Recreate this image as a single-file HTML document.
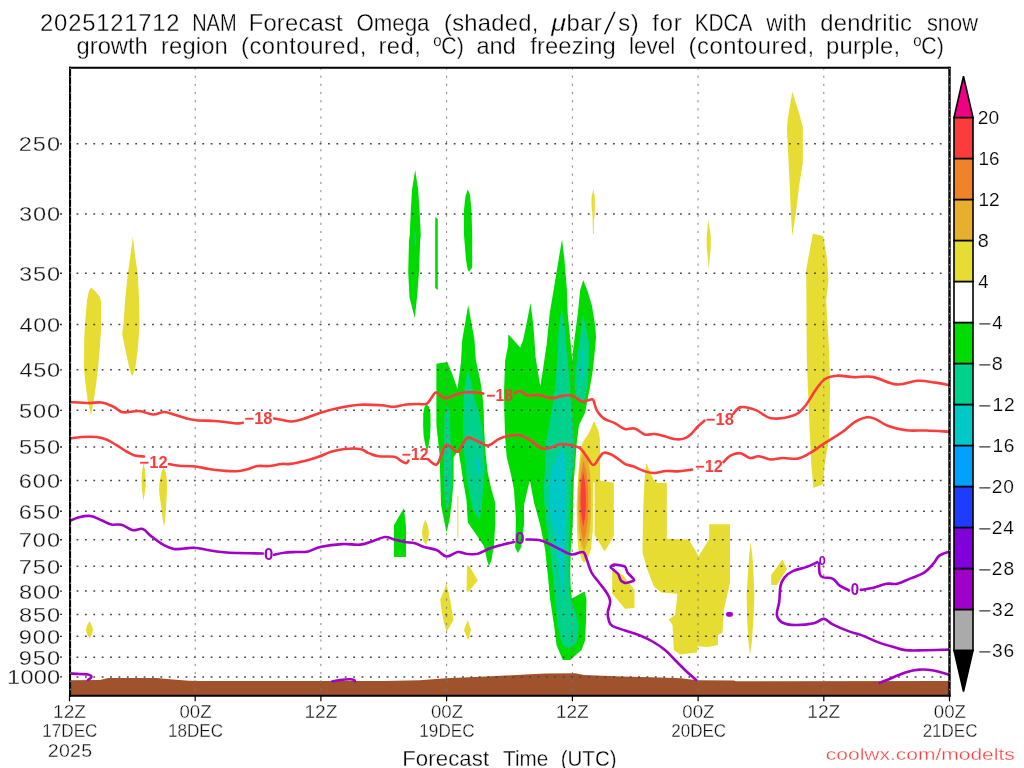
<!DOCTYPE html>
<html lang="en"><head><meta charset="utf-8"><title>NAM Forecast Omega KDCA</title>
<style>html,body{margin:0;padding:0;background:#fff;}svg{display:block;}text{font-family:"Liberation Sans", sans-serif;}</style></head><body>
<svg width="1024" height="768" viewBox="0 0 1024 768">
<rect width="1024" height="768" fill="#fff"/>
<defs><clipPath id="cp"><rect x="69.5" y="67.5" width="880.0" height="628.0"/></clipPath></defs>
<g clip-path="url(#cp)" shape-rendering="geometricPrecision">
<path d="M91.0 287.5 L95.0 291.0 L100.0 297.0 L101.0 302.0 L101.0 330.0 L100.0 345.0 L98.0 369.0 L96.0 385.0 L94.0 399.0 L91.0 415.5 L87.5 399.0 L85.0 380.0 L84.0 369.0 L84.2 340.0 L85.0 324.0 L87.0 300.0 L89.0 291.0Z" fill="#e6dc32"/>
<path d="M132.8 237.0 L135.0 255.0 L137.8 274.0 L139.0 299.0 L139.5 324.0 L139.0 334.0 L137.8 349.0 L135.2 369.0 L132.2 376.5 L129.5 369.0 L125.2 349.0 L122.2 334.0 L123.5 324.0 L125.2 299.0 L127.8 274.0 L130.5 255.0Z" fill="#e6dc32"/>
<path d="M143.5 463.5 L145.0 470.0 L145.8 481.0 L145.5 488.0 L143.5 501.0 L142.0 490.0 L141.5 481.0 L142.3 470.0Z" fill="#e6dc32"/>
<path d="M163.5 467.5 L166.0 473.0 L166.8 480.0 L167.0 489.0 L166.5 500.0 L166.0 509.0 L165.0 520.0 L164.0 527.0 L162.5 518.0 L161.5 509.0 L159.5 495.0 L159.0 489.0 L160.0 480.0 L161.5 472.0Z" fill="#e6dc32"/>
<path d="M89.5 621.0 L92.0 626.0 L93.0 630.0 L92.0 634.0 L89.5 638.5 L87.0 634.0 L85.8 630.0 L87.0 626.0Z" fill="#e6dc32"/>
<path d="M415.2 170.0 L418.2 190.0 L419.5 210.0 L420.8 235.0 L420.2 240.0 L419.0 272.5 L417.0 297.5 L414.8 318.0 L409.5 297.5 L408.2 272.5 L409.0 240.0 L409.8 235.0 L410.8 210.0 L412.0 190.0Z" fill="#00dc00"/>
<path d="M414.5 232.0 L416.0 232.0 L416.0 245.0 L414.5 245.0Z" fill="#00d28c"/>
<path d="M435.2 217.0 L437.8 219.0 L437.8 290.0 L435.2 288.0Z" fill="#00dc00"/>
<path d="M467.8 189.2 L470.0 195.0 L471.5 210.0 L472.2 235.0 L472.2 267.5 L469.0 271.8 L467.8 270.0 L466.0 260.0 L464.0 235.0 L464.0 210.0 L465.5 196.0Z" fill="#00dc00"/>
<path d="M593.5 189.0 L594.8 197.0 L594.8 215.0 L594.0 220.0 L593.8 234.0 L593.0 234.0 L592.5 215.0 L591.5 205.0 L591.5 197.0Z" fill="#e6dc32"/>
<path d="M426.5 404.0 L429.0 407.0 L430.4 413.0 L430.6 425.0 L430.0 437.0 L428.5 446.0 L427.0 451.0 L425.3 445.0 L423.6 436.0 L423.1 425.0 L423.3 413.0 L424.5 407.0Z" fill="#00dc00"/>
<path d="M404.0 508.0 L406.0 527.0 L406.0 557.0 L394.0 557.0 L394.0 525.0Z" fill="#00dc00"/>
<path d="M436.4 363.8 L447.3 362.0 L452.8 375.6 L457.5 389.0 L461.0 362.0 L462.2 340.0 L468.2 305.0 L474.5 340.0 L475.8 360.0 L480.2 380.0 L482.5 396.0 L483.8 411.5 L484.0 427.0 L485.6 453.8 L487.7 472.5 L491.5 490.0 L495.2 502.5 L495.2 525.0 L494.0 545.0 L491.5 560.0 L489.0 566.2 L487.0 560.0 L484.0 546.2 L476.5 535.0 L467.8 522.5 L466.5 500.0 L463.0 480.0 L461.0 466.0 L458.3 450.6 L453.6 457.0 L453.6 480.0 L452.0 500.0 L449.5 520.0 L446.5 532.5 L444.0 520.0 L441.0 505.0 L440.3 480.0 L439.5 453.8 L436.4 425.6Z" fill="#00dc00"/>
<path d="M446.5 407.0 L449.7 411.5 L450.5 438.0 L452.0 470.0 L451.5 485.0 L449.5 500.0 L447.0 512.5 L445.0 500.0 L444.0 480.0 L444.2 440.0 L444.5 415.0Z" fill="#00d28c"/>
<path d="M467.7 368.6 L471.6 383.4 L473.9 396.0 L478.6 411.5 L482.2 430.3 L483.8 453.8 L484.8 469.4 L483.0 490.0 L481.5 510.0 L479.0 520.0 L476.0 515.0 L472.8 510.0 L466.9 480.0 L464.2 453.8 L463.0 438.0 L463.0 411.5 L464.2 391.0Z" fill="#00d28c"/>
<path d="M477.8 453.8 L479.5 462.0 L479.3 472.0 L478.5 478.0 L476.5 470.0 L476.0 462.0Z" fill="#00c8c8"/>
<path d="M508.2 335.0 L509.0 335.0 L520.2 347.5 L523.1 340.0 L527.0 321.2 L530.5 303.0 L533.3 324.4 L535.6 357.2 L538.8 377.5 L540.3 386.0 L542.7 371.2 L546.6 344.7 L549.7 313.4 L553.6 290.0 L556.5 272.5 L562.0 239.2 L564.5 260.0 L566.9 290.0 L567.7 313.4 L570.0 336.9 L571.6 352.5 L572.3 361.0 L572.8 352.5 L574.7 336.9 L577.8 313.4 L580.2 290.0 L583.2 280.0 L587.2 290.0 L591.9 305.6 L595.0 324.4 L596.1 336.9 L594.7 352.5 L592.7 371.2 L589.5 390.0 L586.4 405.6 L585.2 412.5 L579.0 425.0 L576.5 445.0 L575.2 465.0 L573.8 480.0 L573.2 503.0 L572.6 527.0 L570.8 550.0 L570.2 570.0 L570.6 585.0 L571.8 598.4 L584.6 591.5 L586.5 600.0 L586.0 620.0 L585.2 640.0 L581.5 650.0 L570.2 660.0 L562.8 660.0 L556.5 645.0 L554.0 625.0 L550.2 600.0 L547.8 575.0 L545.2 550.0 L540.2 525.0 L534.0 502.5 L529.8 480.0 L524.0 505.0 L524.0 525.0 L521.0 547.5 L517.8 553.0 L515.2 547.5 L516.0 520.0 L514.0 490.0 L512.2 480.0 L509.8 469.4 L506.7 456.9 L505.2 438.0 L504.4 414.7 L504.0 391.0 L505.2 360.0 L508.2 345.0Z" fill="#00dc00"/>
<path d="M561.9 308.0 L564.5 324.4 L566.1 344.7 L568.4 368.0 L570.0 386.9 L570.8 405.0 L572.0 412.5 L573.4 432.0 L574.7 447.7 L573.5 465.0 L570.8 480.0 L570.2 515.0 L569.0 538.6 L568.6 555.0 L568.8 575.0 L570.5 600.0 L576.5 615.0 L579.0 627.5 L576.5 642.5 L570.2 647.5 L566.5 647.5 L561.5 642.5 L557.8 625.0 L555.2 600.0 L552.8 575.0 L550.2 550.0 L546.5 525.0 L544.0 500.0 L544.0 485.0 L545.0 469.4 L545.8 442.8 L549.7 422.5 L553.6 399.0 L556.0 378.8 L557.5 352.5 L559.0 324.4Z" fill="#00d28c"/>
<path d="M583.0 314.2 L586.4 329.0 L588.8 341.6 L588.8 360.3 L588.0 377.5 L586.4 391.6 L584.0 401.0 L582.5 402.5 L575.5 396.2 L574.7 383.8 L575.5 371.2 L577.8 352.5 L580.2 336.9Z" fill="#00d28c"/>
<path d="M582.8 347.0 L584.0 355.0 L584.2 366.0 L583.8 376.0 L583.0 382.5 L582.0 376.0 L581.6 366.0 L581.8 355.0Z" fill="#00c8c8"/>
<path d="M562.8 447.5 L564.8 457.5 L566.1 480.0 L566.2 500.0 L566.1 515.0 L565.0 538.6 L564.2 555.0 L563.8 570.0 L563.0 590.0 L562.3 600.0 L561.3 590.0 L559.7 570.0 L557.3 550.3 L553.8 532.7 L550.3 515.0 L549.4 497.6 L550.3 480.0 L551.5 470.0 L556.5 458.0Z" fill="#00c8c8"/>
<path d="M594.0 421.0 L598.2 430.0 L599.8 438.0 L600.2 455.0 L600.0 481.5 L593.2 482.5 L592.8 530.0 L591.0 549.0 L587.6 558.4 L584.0 563.0 L581.7 559.6 L578.2 549.0 L577.0 530.0 L576.6 505.0 L577.7 483.4 L578.5 470.0 L580.0 455.0 L582.5 442.5 L589.0 433.0Z" fill="#e6dc32"/>
<path d="M584.0 449.0 L588.0 460.0 L590.3 475.0 L591.0 495.0 L590.8 515.0 L589.5 532.0 L587.0 544.0 L584.0 551.5 L581.0 544.0 L578.8 530.0 L577.8 510.0 L578.0 490.0 L579.3 472.0 L581.3 458.0Z" fill="#e6af2d"/>
<path d="M583.5 461.0 L586.5 473.0 L588.0 488.0 L588.3 503.0 L587.7 520.0 L586.0 533.0 L583.6 542.5 L581.3 533.0 L579.8 518.0 L579.3 500.0 L580.0 485.0 L581.3 472.0Z" fill="#f08228"/>
<path d="M583.3 472.0 L585.0 482.0 L585.9 495.0 L585.9 506.0 L585.0 517.0 L583.3 527.0 L581.8 517.0 L580.8 506.0 L580.6 495.0 L581.4 482.0Z" fill="#fa3c3c"/>
<path d="M594.6 482.2 L600.0 480.5 L613.8 482.7 L613.8 536.0 L604.7 551.4 L594.6 535.0Z" fill="#e6dc32"/>
<path d="M425.2 519.5 L428.0 526.0 L429.0 533.0 L428.0 540.0 L425.8 545.0 L423.0 540.0 L422.0 533.0 L423.0 526.0Z" fill="#e6dc32"/>
<path d="M457.3 496.0 L458.3 496.0 L458.3 537.5 L457.3 537.5Z" fill="#e6dc32"/>
<path d="M446.5 583.8 L450.2 600.0 L453.5 620.0 L446.5 632.0 L442.8 617.5 L440.2 600.0Z" fill="#e6dc32"/>
<path d="M467.0 565.0 L470.0 567.0 L477.8 580.5 L468.0 592.5 L466.5 590.0Z" fill="#e6dc32"/>
<path d="M467.8 620.0 L471.0 630.0 L468.2 640.5 L464.0 630.0Z" fill="#e6dc32"/>
<path d="M612.2 570.5 L622.7 574.8 L634.5 590.0 L634.5 608.0 L625.0 608.8 L612.2 593.6Z" fill="#e6dc32"/>
<path d="M646.2 463.0 L653.8 480.0 L657.5 483.0 L666.8 483.0 L666.8 538.8 L688.8 539.5 L698.8 556.2 L709.2 538.8 L709.2 524.2 L730.0 524.2 L730.0 582.5 L723.8 610.0 L722.5 632.5 L718.0 635.0 L718.0 645.0 L707.5 647.0 L697.5 646.2 L697.0 652.5 L680.0 654.5 L673.8 650.0 L672.5 625.0 L668.8 619.5 L675.0 615.0 L677.5 593.8 L661.2 592.5 L653.8 586.2 L647.5 570.0 L642.5 552.5 L643.0 515.0 L644.5 480.0Z" fill="#e6dc32"/>
<path d="M750.5 542.0 L752.3 555.0 L753.3 570.0 L754.4 595.0 L753.6 615.0 L752.0 640.0 L750.0 655.0 L748.3 640.0 L747.2 620.0 L746.6 595.0 L748.5 565.0 L749.5 552.0Z" fill="#e6dc32"/>
<path d="M782.5 559.5 L787.0 569.0 L780.0 580.0 L777.0 585.0 L771.2 585.0 L771.2 575.0Z" fill="#e6dc32"/>
<path d="M812.9 233.6 L823.3 236.2 L826.7 257.0 L828.5 280.0 L826.2 300.0 L829.2 353.8 L830.1 389.8 L829.2 437.7 L824.7 464.6 L823.2 484.0 L813.4 488.0 L811.3 464.6 L809.2 419.7 L806.8 359.8 L806.2 270.0 L808.5 257.0Z" fill="#e6dc32"/>
<path d="M792.3 91.7 L799.4 113.9 L802.8 126.9 L802.8 163.3 L799.4 184.2 L795.5 215.4 L792.3 236.3 L791.0 215.4 L789.7 184.2 L788.4 158.1 L786.9 129.5 L787.7 119.0Z" fill="#e6dc32"/>
<path d="M708.2 220.1 L710.8 236.0 L710.8 247.0 L708.8 268.8 L707.5 255.0 L706.7 247.0 L706.7 236.0Z" fill="#e6dc32"/>
</g>
<g clip-path="url(#cp)">
<path d="M69.5 680.2 L100.0 680.0 L108.0 678.0 L157.0 678.0 L170.0 679.3 L189.0 680.8 L200.0 681.0 L384.0 681.0 L420.0 680.3 L446.0 678.3 L475.0 677.0 L506.0 675.5 L530.0 674.3 L546.0 673.4 L575.0 673.2 L584.0 675.0 L621.0 676.5 L660.0 677.5 L681.0 678.3 L697.0 680.3 L734.0 680.5 L736.0 681.2 L949.5 681.0 L949.5 695.5 L69.5 695.5Z" fill="#a0522d"/>
</g>
<g fill="none">
<line x1="76.58" y1="143.85" x2="947.5" y2="143.85" stroke="#444" stroke-width="1.5" stroke-dasharray="1.8 6.581"/>
<line x1="76.58" y1="213.95" x2="947.5" y2="213.95" stroke="#444" stroke-width="1.5" stroke-dasharray="1.8 6.581"/>
<line x1="76.58" y1="273.22" x2="947.5" y2="273.22" stroke="#444" stroke-width="1.5" stroke-dasharray="1.8 6.581"/>
<line x1="76.58" y1="324.57" x2="947.5" y2="324.57" stroke="#444" stroke-width="1.5" stroke-dasharray="1.8 6.581"/>
<line x1="76.58" y1="369.85" x2="947.5" y2="369.85" stroke="#444" stroke-width="1.5" stroke-dasharray="1.8 6.581"/>
<line x1="76.58" y1="410.37" x2="947.5" y2="410.37" stroke="#444" stroke-width="1.5" stroke-dasharray="1.8 6.581"/>
<line x1="76.58" y1="447.01" x2="947.5" y2="447.01" stroke="#444" stroke-width="1.5" stroke-dasharray="1.8 6.581"/>
<line x1="76.58" y1="480.47" x2="947.5" y2="480.47" stroke="#444" stroke-width="1.5" stroke-dasharray="1.8 6.581"/>
<line x1="76.58" y1="511.24" x2="947.5" y2="511.24" stroke="#444" stroke-width="1.5" stroke-dasharray="1.8 6.581"/>
<line x1="76.58" y1="539.74" x2="947.5" y2="539.74" stroke="#444" stroke-width="1.5" stroke-dasharray="1.8 6.581"/>
<line x1="76.58" y1="566.27" x2="947.5" y2="566.27" stroke="#444" stroke-width="1.5" stroke-dasharray="1.8 6.581"/>
<line x1="76.58" y1="591.08" x2="947.5" y2="591.08" stroke="#444" stroke-width="1.5" stroke-dasharray="1.8 6.581"/>
<line x1="76.58" y1="614.39" x2="947.5" y2="614.39" stroke="#444" stroke-width="1.5" stroke-dasharray="1.8 6.581"/>
<line x1="76.58" y1="636.37" x2="947.5" y2="636.37" stroke="#444" stroke-width="1.5" stroke-dasharray="1.8 6.581"/>
<line x1="76.58" y1="657.16" x2="947.5" y2="657.16" stroke="#444" stroke-width="1.5" stroke-dasharray="1.8 6.581"/>
<line x1="76.58" y1="676.88" x2="947.5" y2="676.88" stroke="#444" stroke-width="1.5" stroke-dasharray="1.8 6.581"/>
<line x1="195.2" y1="67.44" x2="195.2" y2="695.5" stroke="#777" stroke-width="0.9" stroke-dasharray="2.2 5.970"/>
<line x1="320.9" y1="67.44" x2="320.9" y2="695.5" stroke="#777" stroke-width="0.9" stroke-dasharray="2.2 5.970"/>
<line x1="446.6" y1="67.44" x2="446.6" y2="695.5" stroke="#777" stroke-width="0.9" stroke-dasharray="2.2 5.970"/>
<line x1="572.4" y1="67.44" x2="572.4" y2="695.5" stroke="#777" stroke-width="0.9" stroke-dasharray="2.2 5.970"/>
<line x1="698.1" y1="67.44" x2="698.1" y2="695.5" stroke="#777" stroke-width="0.9" stroke-dasharray="2.2 5.970"/>
<line x1="823.8" y1="67.44" x2="823.8" y2="695.5" stroke="#777" stroke-width="0.9" stroke-dasharray="2.2 5.970"/>
</g>
<g clip-path="url(#cp)" fill="none" stroke-linejoin="round" stroke-linecap="round">
<path d="M69.5 402.0 C73.1 402.2 83.1 402.9 89.0 403.0 C94.9 403.1 96.9 401.8 101.5 402.5 C106.1 403.2 110.1 405.2 114.0 407.0 C117.9 408.8 118.2 411.5 122.8 412.2 C127.3 413.0 133.5 410.6 139.0 411.0 C144.5 411.4 148.2 414.3 152.8 414.5 C157.3 414.7 160.1 412.0 164.0 412.0 C167.9 412.0 169.9 413.3 174.0 414.5 C178.1 415.7 182.4 417.4 186.5 418.5 C190.6 419.6 191.5 419.8 196.5 420.2 C201.5 420.7 208.5 420.6 214.0 421.0 C219.5 421.4 222.4 421.8 226.5 422.2 C230.6 422.7 233.5 423.4 236.5 423.5 C239.5 423.6 241.6 422.9 242.8 422.8" stroke="#fa3c3c" stroke-width="2.6"/>
<path d="M274.0 418.5 C275.4 418.7 278.3 419.2 281.5 419.8 C284.7 420.3 287.6 421.6 291.5 421.5 C295.4 421.4 297.5 420.8 303.0 419.1 C308.5 417.5 314.1 414.7 321.2 412.5 C328.4 410.3 334.9 408.7 342.1 407.3 C349.3 405.9 353.2 405.1 360.3 404.7 C367.4 404.3 374.9 404.9 381.1 405.3 C387.3 405.7 389.9 406.9 394.2 406.8 C398.5 406.7 400.3 405.2 404.6 404.7 C408.9 404.2 413.6 404.1 417.6 404.0 C421.6 403.9 423.8 404.9 426.2 403.9 C428.7 402.9 429.3 400.6 431.0 398.5 C432.7 396.4 433.8 393.1 435.6 392.6 C437.4 392.1 439.0 394.8 441.0 395.8 C443.0 396.8 443.9 398.6 446.6 398.3 C449.4 398.0 452.3 395.5 456.0 394.4 C459.7 393.3 463.2 392.6 466.9 392.3 C470.6 392.0 473.2 392.3 476.2 392.5 C479.3 392.7 482.0 393.4 483.3 393.6" stroke="#fa3c3c" stroke-width="2.6"/>
<path d="M514.8 393.1 C515.8 392.8 518.2 391.2 520.0 391.3 C521.8 391.4 522.8 392.8 524.5 393.6 C526.2 394.4 526.8 395.2 529.4 395.5 C532.0 395.8 534.7 394.5 538.8 395.0 C542.8 395.5 547.0 397.9 551.2 398.1 C555.5 398.3 558.5 396.4 562.2 395.9 C565.9 395.4 568.9 395.0 571.6 395.5 C574.3 396.0 575.0 397.4 577.0 398.5 C579.0 399.6 580.5 401.4 582.5 401.7 C584.5 402.0 586.1 400.7 588.0 400.3 C589.9 399.9 591.5 398.7 592.7 399.4 C593.9 400.1 593.9 402.1 594.6 404.0 C595.3 405.9 595.6 408.1 596.6 410.0 C597.6 411.9 598.3 412.9 599.8 414.5 C601.3 416.1 602.0 417.4 604.8 419.0 C607.5 420.6 611.2 421.4 614.8 423.2 C618.4 425.0 621.1 428.0 624.7 429.0 C628.3 430.0 631.0 427.6 634.7 428.6 C638.4 429.6 641.1 433.5 644.7 434.5 C648.3 435.5 650.6 433.6 654.6 434.0 C658.6 434.4 662.3 435.8 666.2 436.8 C670.2 437.8 672.9 439.0 676.2 439.3 C679.5 439.6 681.8 439.4 684.5 438.4 C687.2 437.4 688.8 436.2 691.2 434.0 C693.6 431.8 695.4 428.9 697.8 426.5 C700.2 424.1 703.2 421.8 704.4 420.7" stroke="#fa3c3c" stroke-width="2.6"/>
<path d="M733.4 413.7 C734.8 412.5 736.8 407.8 740.9 407.1 C745.0 406.4 750.4 408.1 755.9 410.1 C761.4 412.1 764.3 417.1 770.9 418.2 C777.5 419.3 785.8 418.0 791.8 416.1 C797.8 414.2 799.4 412.5 803.8 407.7 C808.2 402.9 812.0 395.0 815.8 389.8 C819.6 384.6 820.9 381.9 824.7 379.3 C828.5 376.7 831.2 376.1 836.7 375.7 C842.2 375.3 848.1 377.0 854.7 377.2 C861.3 377.4 864.9 375.6 872.6 376.9 C880.3 378.2 888.4 383.7 896.6 384.4 C904.9 385.1 910.5 381.1 917.6 380.8 C924.7 380.5 929.6 381.8 935.5 382.6 C941.4 383.4 947.3 384.8 949.9 385.3" stroke="#fa3c3c" stroke-width="2.6"/>
<path d="M69.5 438.5 C71.7 438.2 76.5 437.3 81.5 437.0 C86.5 436.7 91.9 436.5 96.5 437.0 C101.1 437.5 102.8 438.0 106.5 439.5 C110.2 441.0 112.8 443.1 116.5 445.2 C120.2 447.4 123.3 449.7 126.5 451.5 C129.7 453.3 130.8 454.3 134.0 455.2 C137.2 456.2 142.2 456.3 144.0 456.5" stroke="#fa3c3c" stroke-width="2.6"/>
<path d="M169.0 464.0 C170.8 464.3 174.2 465.3 179.0 465.8 C183.8 466.2 189.8 465.9 195.2 466.5 C200.8 467.1 203.7 468.2 209.0 469.0 C214.3 469.8 219.0 470.3 224.0 470.8 C229.0 471.2 232.4 471.5 236.5 471.2 C240.6 471.0 242.6 470.5 246.5 469.5 C250.4 468.5 253.6 466.6 257.8 466.0 C261.9 465.4 264.6 466.4 269.0 466.0 C273.4 465.6 277.6 464.4 281.5 464.0 C285.4 463.6 285.6 464.5 290.0 463.9 C294.4 463.3 300.4 462.0 305.6 460.7 C310.8 459.4 313.8 458.5 318.6 456.8 C323.4 455.1 326.9 453.0 331.7 451.6 C336.5 450.2 339.5 449.5 344.7 449.0 C349.9 448.5 356.0 448.3 360.3 449.0 C364.6 449.7 364.8 451.6 368.1 452.9 C371.4 454.2 373.7 455.6 378.5 456.3 C383.3 457.0 390.1 456.0 394.2 456.8 C398.3 457.6 398.6 459.5 400.7 460.7 C402.8 461.9 404.5 463.3 405.9 463.3 C407.3 463.3 408.0 461.2 408.5 460.7" stroke="#fa3c3c" stroke-width="2.6"/>
<path d="M427.8 459.2 C429.4 460.2 433.9 465.5 436.4 464.6 C438.9 463.7 439.6 458.1 441.5 454.5 C443.4 450.9 443.7 445.3 446.6 444.8 C449.5 444.3 454.3 452.0 457.2 451.9 C460.1 451.8 460.6 447.1 462.5 444.5 C464.4 441.9 464.9 438.3 467.7 437.7 C470.5 437.1 474.1 439.8 477.8 441.2 C481.5 442.7 484.3 445.9 488.0 445.6 C491.7 445.3 494.5 441.1 498.1 439.4 C501.7 437.7 503.5 436.9 507.5 436.1 C511.5 435.3 516.0 434.6 520.0 435.3 C524.0 436.0 525.4 437.3 529.4 439.7 C533.4 442.1 537.9 446.9 541.9 448.3 C545.9 449.7 547.9 448.3 551.2 447.5 C554.6 446.7 556.6 444.6 560.0 444.2 C563.4 443.8 566.4 444.4 570.0 445.1 C573.6 445.8 576.9 446.0 579.9 448.1 C582.9 450.2 584.2 453.3 586.6 456.4 C589.0 459.5 590.9 464.7 593.2 465.0 C595.5 465.3 597.0 460.3 599.0 458.0 C601.0 455.7 601.4 453.2 604.0 452.7 C606.6 452.2 609.3 453.5 613.1 455.5 C616.9 457.5 621.1 461.8 624.7 463.8 C628.3 465.8 629.3 464.9 633.0 466.3 C636.7 467.7 640.7 470.1 644.7 471.3 C648.7 472.5 650.6 473.1 654.6 473.0 C658.6 472.9 661.7 471.3 666.2 471.0 C670.8 470.7 674.8 471.6 679.5 471.3 C684.2 471.0 689.7 469.9 692.0 469.6" stroke="#fa3c3c" stroke-width="2.6"/>
<path d="M723.5 462.2 C724.8 461.0 727.3 457.2 730.4 455.6 C733.5 454.0 736.7 452.8 740.3 453.2 C743.9 453.6 746.5 457.4 749.9 458.0 C753.3 458.6 755.0 455.9 758.9 456.2 C762.8 456.5 766.5 459.2 770.9 459.5 C775.3 459.8 777.9 458.2 782.8 458.0 C787.7 457.8 792.8 459.5 797.8 458.6 C802.8 457.7 804.9 456.0 809.8 453.2 C814.7 450.4 818.7 447.0 824.7 443.1 C830.7 439.2 837.2 435.6 842.7 431.7 C848.2 427.8 850.3 424.7 854.7 422.1 C859.1 419.5 862.9 417.9 866.7 417.3 C870.5 416.8 871.8 417.6 875.6 419.1 C879.4 420.6 882.1 423.7 887.6 425.7 C893.1 427.7 898.5 429.3 905.6 430.2 C912.7 431.1 918.4 430.2 926.5 430.5 C934.6 430.8 945.6 431.5 949.9 431.7" stroke="#fa3c3c" stroke-width="2.6"/>
<path d="M69.5 521.0 C71.2 520.3 75.2 518.2 79.0 517.2 C82.8 516.3 86.1 515.5 90.2 516.0 C94.4 516.5 97.6 518.7 101.5 520.2 C105.4 521.8 107.8 523.7 111.5 524.5 C115.2 525.3 117.6 523.7 121.5 524.8 C125.4 525.8 128.9 529.5 132.8 530.2 C136.6 531.0 139.3 527.9 142.8 529.0 C146.2 530.1 147.6 533.5 151.5 536.5 C155.4 539.5 159.9 543.0 164.0 545.2 C168.1 547.5 170.3 548.4 174.0 549.0 C177.7 549.6 180.1 548.7 184.0 548.5 C187.9 548.3 190.7 547.4 195.2 547.8 C199.8 548.1 203.7 549.4 209.0 550.2 C214.3 551.1 218.5 551.7 224.0 552.2 C229.5 552.8 231.9 552.8 239.0 553.0 C246.1 553.2 258.4 553.4 262.8 553.5" stroke="#a000c8" stroke-width="2.6"/>
<path d="M274.0 554.8 C275.8 554.4 280.0 553.3 284.0 552.8 C288.0 552.2 291.6 552.2 296.0 552.0 C300.4 551.8 303.6 552.4 308.2 551.4 C312.8 550.4 315.0 548.0 321.2 546.7 C327.5 545.4 334.9 544.5 342.1 544.1 C349.3 543.7 354.6 545.2 360.3 544.6 C366.0 544.0 368.8 542.3 373.3 540.9 C377.8 539.5 381.3 537.3 385.1 537.0 C388.9 536.7 390.6 538.5 394.2 539.4 C397.8 540.3 400.8 541.3 404.6 542.0 C408.4 542.7 411.4 542.4 415.0 543.3 C418.6 544.2 420.1 545.8 424.0 547.0 C427.9 548.2 432.4 548.3 436.5 550.0 C440.6 551.7 442.6 556.1 446.5 556.5 C450.4 556.9 454.1 552.5 457.8 552.0 C461.4 551.5 462.8 553.4 466.5 553.8 C470.2 554.1 473.6 554.7 477.8 553.8 C481.9 552.8 484.6 550.4 489.0 548.8 C493.4 547.1 496.9 546.2 501.5 545.0 C506.1 543.8 511.7 542.5 514.0 542.0" stroke="#a000c8" stroke-width="2.6"/>
<path d="M526.5 539.5 C528.8 539.6 534.9 539.2 539.0 540.0 C543.1 540.8 545.3 542.1 549.0 543.8 C552.7 545.4 554.9 546.8 559.0 548.8 C563.1 550.7 567.1 553.9 571.5 554.5 C575.9 555.1 580.0 551.2 582.8 552.0 C585.5 552.8 584.9 555.0 586.5 558.8 C588.1 562.5 589.2 568.1 591.5 572.5 C593.8 576.9 596.2 578.8 599.0 582.5 C601.8 586.2 604.4 589.1 606.5 592.5 C608.6 595.9 610.0 597.6 610.2 601.2 C610.5 604.9 608.0 608.9 607.8 612.5 C607.5 616.1 608.1 618.5 609.0 621.0 C609.9 623.5 609.6 624.3 612.5 626.0 C615.4 627.7 620.0 628.8 625.0 630.5 C630.0 632.2 635.0 633.5 640.0 635.5 C645.0 637.5 647.9 638.8 652.5 641.5 C657.1 644.2 660.9 646.6 665.0 650.0 C669.1 653.4 671.3 656.3 675.0 660.0 C678.7 663.7 681.1 666.3 685.0 670.0 C688.9 673.7 694.2 678.2 696.2 680.0" stroke="#a000c8" stroke-width="2.6"/>
<path d="M610.6 567.3 C610.2 566.4 613.1 564.7 614.5 564.6 C615.9 564.5 623.7 565.8 625.0 566.6 C626.3 567.4 626.5 571.2 627.4 572.5 C628.3 573.8 634.3 579.0 634.2 580.0 C634.1 581.0 627.6 582.9 626.2 583.0 C624.9 583.1 621.8 581.6 621.0 580.7 C620.2 579.8 619.0 575.0 618.0 573.7 C617.0 572.4 611.0 568.2 610.6 567.3" stroke="#a000c8" stroke-width="2.6"/>
<path d="M819.0 563.4 C819.1 565.3 819.0 571.3 819.8 573.9 C820.6 576.5 820.9 576.5 823.3 577.4 C825.7 578.3 829.7 577.1 832.7 578.6 C835.7 580.1 836.7 583.5 839.7 585.6 C842.7 587.7 847.3 589.4 849.0 590.3" stroke="#a000c8" stroke-width="2.6"/>
<path d="M817.4 562.2 C815.5 563.1 811.4 565.3 806.9 566.9 C802.4 568.5 796.9 569.2 792.8 571.1 C788.7 573.0 786.8 574.7 784.6 577.4 C782.4 580.1 781.6 581.1 780.6 585.6 C779.6 590.1 779.9 596.6 779.2 602.0 C778.5 607.4 776.3 611.2 776.9 615.0 C777.5 618.8 778.9 620.7 782.3 622.5 C785.7 624.3 789.4 624.9 795.2 625.0 C801.0 625.1 808.7 624.3 813.9 623.2 C819.1 622.1 820.4 618.7 823.8 618.9 C827.2 619.1 828.1 622.0 832.7 624.3 C837.3 626.6 843.9 629.5 849.1 631.4 C854.3 633.3 855.6 633.0 860.8 634.9 C866.0 636.8 871.2 639.7 877.2 641.9 C883.2 644.1 888.4 645.6 893.6 647.1 C898.8 648.6 899.7 649.5 905.3 650.1 C910.9 650.7 916.0 650.4 924.1 650.3 C932.2 650.2 944.8 649.7 949.4 649.6" stroke="#a000c8" stroke-width="2.6"/>
<path d="M860.8 589.9 C862.9 589.6 867.8 589.1 872.5 588.0 C877.2 586.9 882.1 584.6 886.6 583.8 C891.1 583.0 892.8 584.8 897.1 583.8 C901.4 582.8 905.0 580.6 910.0 578.6 C915.0 576.6 919.8 575.5 924.1 572.7 C928.4 569.9 930.7 566.5 933.5 563.4 C936.3 560.3 936.4 557.8 939.3 555.6 C942.2 553.4 947.5 552.3 949.4 551.6" stroke="#a000c8" stroke-width="2.6"/>
<path d="M879.6 682.9 C881.7 682.0 886.6 680.1 891.3 678.2 C896.0 676.3 900.1 674.0 905.3 672.4 C910.5 670.8 914.2 669.9 919.4 669.6 C924.6 669.3 928.0 669.6 933.5 670.5 C939.0 671.4 946.5 673.9 949.4 674.7" stroke="#a000c8" stroke-width="2.6"/>
<path d="M69.5 673.5 C71.4 673.6 76.6 673.8 80.0 674.0 C83.4 674.2 85.9 674.0 88.0 674.5 C90.1 675.0 91.5 676.0 91.5 677.0 C91.5 678.0 88.6 679.5 88.0 680.0" stroke="#a000c8" stroke-width="2.6"/>
<path d="M332.0 681.5 C333.5 681.2 336.7 680.4 340.0 680.0 C343.3 679.6 347.4 679.3 350.0 679.3 C352.6 679.3 353.1 679.6 354.0 680.0 C354.9 680.4 354.8 681.2 355.0 681.5" stroke="#a000c8" stroke-width="2.6"/>
<path d="M728.3 614.4 L730.7 614.4" stroke="#a000c8" stroke-width="4.6"/>
</g>
<text transform="scale(0.9983,1)" x="244.99 254.63 263.80" y="424.00" font-size="16.50" fill="#fa3c3c" font-weight="bold">−18</text>
<text transform="scale(1.0000,1)" x="139.57 149.25 158.48" y="467.75" font-size="16.50" fill="#fa3c3c" font-weight="bold">−12</text>
<text transform="scale(1.0195,1)" x="259.04" y="560.25" font-size="16.50" fill="#a000c8" font-weight="bold">0</text>
<text transform="scale(0.9571,1)" x="419.86 429.50 438.67" y="460.20" font-size="16.50" fill="#fa3c3c" font-weight="bold">−12</text>
<text transform="scale(0.9554,1)" x="509.07 518.71 527.89" y="401.50" font-size="16.50" fill="#fa3c3c" font-weight="bold">−18</text>
<text transform="scale(1.0195,1)" x="505.49" y="543.75" font-size="16.50" fill="#a000c8" font-weight="bold">0</text>
<text transform="scale(1.0000,1)" x="705.82 715.50 724.73" y="425.10" font-size="16.50" fill="#fa3c3c" font-weight="bold">−18</text>
<text transform="scale(0.9871,1)" x="704.40 714.04 723.21" y="472.30" font-size="16.50" fill="#fa3c3c" font-weight="bold">−12</text>
<text transform="scale(1.0093,1)" x="811.27" y="564.80" font-size="12.50" fill="#a000c8" font-weight="bold">0</text>
<text transform="scale(0.9048,1)" x="940.34" y="595.50" font-size="16.50" fill="#a000c8" font-weight="bold">0</text>
<g stroke="#000" fill="none">
<line x1="69.00" y1="67.75" x2="950.70" y2="67.75" stroke-width="2"/>
<line x1="69.00" y1="695.75" x2="950.70" y2="695.75" stroke-width="2"/>
<line x1="70.05" y1="66.75" x2="70.05" y2="696.75" stroke-width="2.1"/>
<line x1="949.50" y1="66.75" x2="949.50" y2="696.75" stroke-width="2.4"/>
<line x1="69.5" y1="695.5" x2="69.5" y2="701.3" stroke-width="1.2"/>
<line x1="195.2" y1="695.5" x2="195.2" y2="701.3" stroke-width="1.2"/>
<line x1="320.9" y1="695.5" x2="320.9" y2="701.3" stroke-width="1.2"/>
<line x1="446.6" y1="695.5" x2="446.6" y2="701.3" stroke-width="1.2"/>
<line x1="572.4" y1="695.5" x2="572.4" y2="701.3" stroke-width="1.2"/>
<line x1="698.1" y1="695.5" x2="698.1" y2="701.3" stroke-width="1.2"/>
<line x1="823.8" y1="695.5" x2="823.8" y2="701.3" stroke-width="1.2"/>
<line x1="949.5" y1="695.5" x2="949.5" y2="701.3" stroke-width="1.2"/>
<line x1="60.2" y1="143.85" x2="61.8" y2="143.85" stroke-width="1.4"/>
<line x1="60.2" y1="213.95" x2="61.8" y2="213.95" stroke-width="1.4"/>
<line x1="60.2" y1="273.22" x2="61.8" y2="273.22" stroke-width="1.4"/>
<line x1="60.2" y1="324.57" x2="61.8" y2="324.57" stroke-width="1.4"/>
<line x1="60.2" y1="369.85" x2="61.8" y2="369.85" stroke-width="1.4"/>
<line x1="60.2" y1="410.37" x2="61.8" y2="410.37" stroke-width="1.4"/>
<line x1="60.2" y1="447.01" x2="61.8" y2="447.01" stroke-width="1.4"/>
<line x1="60.2" y1="480.47" x2="61.8" y2="480.47" stroke-width="1.4"/>
<line x1="60.2" y1="511.24" x2="61.8" y2="511.24" stroke-width="1.4"/>
<line x1="60.2" y1="539.74" x2="61.8" y2="539.74" stroke-width="1.4"/>
<line x1="60.2" y1="566.27" x2="61.8" y2="566.27" stroke-width="1.4"/>
<line x1="60.2" y1="591.08" x2="61.8" y2="591.08" stroke-width="1.4"/>
<line x1="60.2" y1="614.39" x2="61.8" y2="614.39" stroke-width="1.4"/>
<line x1="60.2" y1="636.37" x2="61.8" y2="636.37" stroke-width="1.4"/>
<line x1="60.2" y1="657.16" x2="61.8" y2="657.16" stroke-width="1.4"/>
<line x1="60.2" y1="676.88" x2="61.8" y2="676.88" stroke-width="1.4"/>
</g>
<line x1="70.3" y1="67.9" x2="70.3" y2="693.5" stroke="#ccc" stroke-width="0.8" stroke-dasharray="1.3 6.87"/>
<line x1="949.7" y1="67.9" x2="949.7" y2="693.5" stroke="#ccc" stroke-width="0.8" stroke-dasharray="1.3 6.87"/>
<text transform="scale(1.1500,1)" x="16.32 28.55 40.79" y="151.30" font-size="20.50" fill="#111" stroke="#fff" stroke-width="0.32">250</text>
<text transform="scale(1.1500,1)" x="16.57 28.68 40.79" y="221.40" font-size="20.50" fill="#111" stroke="#fff" stroke-width="0.32">300</text>
<text transform="scale(1.1500,1)" x="16.57 28.68 40.79" y="280.67" font-size="20.50" fill="#111" stroke="#fff" stroke-width="0.32">350</text>
<text transform="scale(1.1500,1)" x="16.88 28.83 40.79" y="332.02" font-size="20.50" fill="#111" stroke="#fff" stroke-width="0.32">400</text>
<text transform="scale(1.1500,1)" x="16.88 28.83 40.79" y="377.30" font-size="20.50" fill="#111" stroke="#fff" stroke-width="0.32">450</text>
<text transform="scale(1.1500,1)" x="16.53 28.66 40.79" y="417.82" font-size="20.50" fill="#111" stroke="#fff" stroke-width="0.32">500</text>
<text transform="scale(1.1500,1)" x="16.53 28.66 40.79" y="454.46" font-size="20.50" fill="#111" stroke="#fff" stroke-width="0.32">550</text>
<text transform="scale(1.1500,1)" x="16.31 28.55 40.79" y="487.92" font-size="20.50" fill="#111" stroke="#fff" stroke-width="0.32">600</text>
<text transform="scale(1.1500,1)" x="16.31 28.55 40.79" y="518.69" font-size="20.50" fill="#111" stroke="#fff" stroke-width="0.32">650</text>
<text transform="scale(1.1500,1)" x="16.30 28.54 40.79" y="547.19" font-size="20.50" fill="#111" stroke="#fff" stroke-width="0.32">700</text>
<text transform="scale(1.1500,1)" x="16.30 28.54 40.79" y="573.72" font-size="20.50" fill="#111" stroke="#fff" stroke-width="0.32">750</text>
<text transform="scale(1.1500,1)" x="16.46 28.62 40.79" y="598.53" font-size="20.50" fill="#111" stroke="#fff" stroke-width="0.32">800</text>
<text transform="scale(1.1500,1)" x="16.46 28.62 40.79" y="621.84" font-size="20.50" fill="#111" stroke="#fff" stroke-width="0.32">850</text>
<text transform="scale(1.1500,1)" x="16.39 28.59 40.79" y="643.82" font-size="20.50" fill="#111" stroke="#fff" stroke-width="0.32">900</text>
<text transform="scale(1.1500,1)" x="16.39 28.59 40.79" y="664.61" font-size="20.50" fill="#111" stroke="#fff" stroke-width="0.32">950</text>
<text transform="scale(1.1500,1)" x="6.18 17.72 29.25 40.79" y="684.33" font-size="20.50" fill="#111" stroke="#fff" stroke-width="0.32">1000</text>
<text transform="scale(1.0249,1)" x="51.76 62.10 72.45" y="718.40" font-size="18.60" fill="#111" stroke="#fff" stroke-width="0.32">12Z</text>
<text transform="scale(0.9216,1)" x="45.78 56.13 66.47 79.91 92.31" y="737.50" font-size="18.60" fill="#111" stroke="#fff" stroke-width="0.32">17DEC</text>
<text transform="scale(1.0019,1)" x="179.15 189.50 199.84" y="718.40" font-size="18.60" fill="#111" stroke="#fff" stroke-width="0.32">00Z</text>
<text transform="scale(0.9216,1)" x="182.19 192.54 202.88 216.31 228.72" y="737.50" font-size="18.60" fill="#111" stroke="#fff" stroke-width="0.32">18DEC</text>
<text transform="scale(1.0249,1)" x="297.09 307.43 317.78" y="718.40" font-size="18.60" fill="#111" stroke="#fff" stroke-width="0.32">12Z</text>
<text transform="scale(1.0019,1)" x="430.11 440.46 450.80" y="718.40" font-size="18.60" fill="#111" stroke="#fff" stroke-width="0.32">00Z</text>
<text transform="scale(0.9216,1)" x="455.01 465.36 475.70 489.13 501.54" y="737.50" font-size="18.60" fill="#111" stroke="#fff" stroke-width="0.32">19DEC</text>
<text transform="scale(1.0249,1)" x="542.41 552.76 563.10" y="718.40" font-size="18.60" fill="#111" stroke="#fff" stroke-width="0.32">12Z</text>
<text transform="scale(1.0019,1)" x="681.07 691.42 701.76" y="718.40" font-size="18.60" fill="#111" stroke="#fff" stroke-width="0.32">00Z</text>
<text transform="scale(0.9140,1)" x="734.38 744.72 755.07 768.50 780.91" y="737.50" font-size="18.60" fill="#111" stroke="#fff" stroke-width="0.32">20DEC</text>
<text transform="scale(1.0249,1)" x="787.74 798.08 808.43" y="718.40" font-size="18.60" fill="#111" stroke="#fff" stroke-width="0.32">12Z</text>
<text transform="scale(1.0019,1)" x="932.03 942.38 952.72" y="718.40" font-size="18.60" fill="#111" stroke="#fff" stroke-width="0.32">00Z</text>
<text transform="scale(0.9140,1)" x="1009.47 1019.81 1030.16 1043.59 1056.00" y="737.50" font-size="18.60" fill="#111" stroke="#fff" stroke-width="0.32">21DEC</text>
<text transform="scale(1.0500,1)" x="45.54 56.16 66.77 77.39" y="756.60" font-size="18.60" fill="#111" stroke="#fff" stroke-width="0.32">2025</text>
<text font-size="22.20" fill="#000" stroke="#fff" stroke-width="0.32"><tspan x="402.18 415.83 428.26 435.75 448.18 459.37 471.81 482.99" y="765.60">Forecast</tspan> <tspan x="503.04" y="765.60" textLength="45.16" lengthAdjust="spacingAndGlyphs">Time</tspan> <tspan x="560.73" y="765.60" textLength="55.85" lengthAdjust="spacingAndGlyphs">(UTC)</tspan></text>
<text transform="scale(1.2643,1)" x="653.17 661.47 670.70 679.93 683.62 695.61 703.91 708.52 716.82 726.05 739.88 744.49 758.32 767.55 776.78 786.02 789.70 794.32" y="760.00" font-size="16.60" fill="#fa3c3c" stroke="#fff" stroke-width="0.30">coolwx.com/modelts</text>
<text font-size="23.80" fill="#000" stroke="#fff" stroke-width="0.32"><tspan x="40.10 54.12 68.14 82.16 96.17 110.19 124.21 138.23 152.24 166.26" y="30.70">2025121712</tspan> <tspan x="192.16" y="30.70" textLength="44.48" lengthAdjust="spacingAndGlyphs">NAM</tspan> <tspan x="248.65 263.39 276.83 284.97 298.41 310.51 323.96 336.06" y="30.70">Forecast</tspan> <tspan x="356.44" y="30.70" textLength="73.06" lengthAdjust="spacingAndGlyphs">Omega</tspan> <tspan x="444.02 452.21 464.36 477.86 491.35 504.84 518.33 531.83" y="30.70">(shaded,</tspan> <tspan font-style="italic" x="551.17" y="30.70" textLength="14.87" lengthAdjust="spacingAndGlyphs">μ</tspan><tspan x="566.57 580.14 593.72" y="30.70">bar</tspan><tspan font-size="34.00" stroke-width="1.50" x="602.30" y="35.40" textLength="15.00" lengthAdjust="spacingAndGlyphs">/</tspan><tspan x="618.34 630.80" y="30.70">s)</tspan> <tspan x="652.16 659.65 673.77" y="30.70">for</tspan> <tspan x="694.63" y="30.70" textLength="56.71" lengthAdjust="spacingAndGlyphs">KDCA</tspan> <tspan x="766.33" y="30.70" textLength="40.13" lengthAdjust="spacingAndGlyphs">with</tspan> <tspan x="820.30 833.75 847.19 860.64 874.08 882.21 887.71 894.53 900.03" y="30.70">dendritic</tspan> <tspan x="926.89" y="30.70" textLength="51.06" lengthAdjust="spacingAndGlyphs">snow</tspan></text>
<text font-size="23.80" fill="#000" stroke="#fff" stroke-width="0.32"><tspan x="76.50" y="53.70" textLength="71.34" lengthAdjust="spacingAndGlyphs">growth</tspan> <tspan x="160.92 169.00 182.39 195.78 201.22 214.61" y="53.70">region</tspan> <tspan x="241.02 249.45 261.85 275.59 289.33 296.44 310.18 323.92 332.35 346.09 359.83" y="53.70">(contoured,</tspan> <tspan x="378.42 386.85 400.59 414.33" y="53.70">red,</tspan> <tspan x="433.52" y="53.70" textLength="30.30" lengthAdjust="spacingAndGlyphs">ºC)</tspan> <tspan x="476.50" y="53.70" textLength="39.32" lengthAdjust="spacingAndGlyphs">and</tspan> <tspan x="530.16 536.92 544.99 558.37 571.75 583.79 589.22 602.60" y="53.70">freezing</tspan> <tspan x="628.98" y="53.70" textLength="46.32" lengthAdjust="spacingAndGlyphs">level</tspan> <tspan x="688.52 696.97 709.39 723.15 736.91 744.04 757.80 771.56 780.01 793.77 807.53" y="53.70">(contoured,</tspan> <tspan x="825.97 839.44 852.91 861.06 874.53 880.06 893.53" y="53.70">purple,</tspan> <tspan x="913.52" y="53.70" textLength="30.30" lengthAdjust="spacingAndGlyphs">ºC)</tspan></text>
<g stroke="#000" stroke-width="1.6" stroke-linejoin="miter">
<rect x="954.0" y="609.5" width="19.0" height="41.0" fill="#aaaaaa"/>
<rect x="954.0" y="568.5" width="19.0" height="41.0" fill="#a000c8"/>
<rect x="954.0" y="527.5" width="19.0" height="41.0" fill="#8200dc"/>
<rect x="954.0" y="486.5" width="19.0" height="41.0" fill="#1e3cff"/>
<rect x="954.0" y="445.5" width="19.0" height="41.0" fill="#00a0ff"/>
<rect x="954.0" y="404.5" width="19.0" height="41.0" fill="#00c8c8"/>
<rect x="954.0" y="363.5" width="19.0" height="41.0" fill="#00d28c"/>
<rect x="954.0" y="322.5" width="19.0" height="41.0" fill="#00dc00"/>
<rect x="954.0" y="281.5" width="19.0" height="41.0" fill="#ffffff"/>
<rect x="954.0" y="240.5" width="19.0" height="41.0" fill="#e6dc32"/>
<rect x="954.0" y="199.5" width="19.0" height="41.0" fill="#e6af2d"/>
<rect x="954.0" y="158.5" width="19.0" height="41.0" fill="#f08228"/>
<rect x="954.0" y="117.5" width="19.0" height="41.0" fill="#fa3c3c"/>
<path d="M954.0 117.5 L963.5 76.3 L973.0 117.5Z" fill="#f00082"/>
<path d="M954.0 650.5 L963.5 691.5 L973.0 650.5Z" fill="#000"/>
</g>
<text transform="scale(1.0600,1)" font-size="18.10" fill="#000" stroke="#fff" stroke-width="0.18"><tspan x="922.39 932.53" y="123.95">20</tspan></text>
<text transform="scale(1.0600,1)" font-size="18.10" fill="#000" stroke="#fff" stroke-width="0.18"><tspan x="923.17" y="164.95" textLength="19.78" lengthAdjust="spacingAndGlyphs">16</tspan></text>
<text transform="scale(1.0600,1)" font-size="18.10" fill="#000" stroke="#fff" stroke-width="0.18"><tspan x="923.17" y="205.95" textLength="19.90" lengthAdjust="spacingAndGlyphs">12</tspan></text>
<text transform="scale(1.0600,1)" font-size="18.10" fill="#000" stroke="#fff" stroke-width="0.18"><tspan x="922.49" y="246.95" textLength="10.40" lengthAdjust="spacingAndGlyphs">8</tspan></text>
<text transform="scale(1.0600,1)" font-size="18.10" fill="#000" stroke="#fff" stroke-width="0.18"><tspan x="922.90" y="287.95" textLength="9.68" lengthAdjust="spacingAndGlyphs">4</tspan></text>
<text transform="scale(1.0600,1)" font-size="18.10" fill="#000" stroke="#fff" stroke-width="0.18"><tspan stroke-width="0.01" x="922.82" y="329.60" textLength="12.36" lengthAdjust="spacingAndGlyphs">−</tspan><tspan x="936.11" y="328.95" textLength="9.68" lengthAdjust="spacingAndGlyphs">4</tspan></text>
<text transform="scale(1.0600,1)" font-size="18.10" fill="#000" stroke="#fff" stroke-width="0.18"><tspan stroke-width="0.01" x="922.82" y="370.60" textLength="12.36" lengthAdjust="spacingAndGlyphs">−</tspan><tspan x="935.70" y="369.95" textLength="10.40" lengthAdjust="spacingAndGlyphs">8</tspan></text>
<text transform="scale(1.0600,1)" font-size="18.10" fill="#000" stroke="#fff" stroke-width="0.18"><tspan stroke-width="0.01" x="922.82" y="411.60" textLength="12.36" lengthAdjust="spacingAndGlyphs">−</tspan><tspan x="936.36 947.07" y="410.95">12</tspan></text>
<text transform="scale(1.0600,1)" font-size="18.10" fill="#000" stroke="#fff" stroke-width="0.18"><tspan stroke-width="0.01" x="922.82" y="452.60" textLength="12.36" lengthAdjust="spacingAndGlyphs">−</tspan><tspan x="936.36 946.96" y="451.95">16</tspan></text>
<text transform="scale(1.0600,1)" font-size="18.10" fill="#000" stroke="#fff" stroke-width="0.18"><tspan stroke-width="0.01" x="922.82" y="493.60" textLength="12.36" lengthAdjust="spacingAndGlyphs">−</tspan><tspan x="935.60 946.58" y="492.95">20</tspan></text>
<text transform="scale(1.0600,1)" font-size="18.10" fill="#000" stroke="#fff" stroke-width="0.18"><tspan stroke-width="0.01" x="922.82" y="534.60" textLength="12.36" lengthAdjust="spacingAndGlyphs">−</tspan><tspan x="935.60 946.41" y="533.95">24</tspan></text>
<text transform="scale(1.0600,1)" font-size="18.10" fill="#000" stroke="#fff" stroke-width="0.18"><tspan stroke-width="0.01" x="922.82" y="575.60" textLength="12.36" lengthAdjust="spacingAndGlyphs">−</tspan><tspan x="935.60 946.66" y="574.95">28</tspan></text>
<text transform="scale(1.0600,1)" font-size="18.10" fill="#000" stroke="#fff" stroke-width="0.18"><tspan stroke-width="0.01" x="922.82" y="616.60" textLength="12.36" lengthAdjust="spacingAndGlyphs">−</tspan><tspan x="935.82 946.79" y="615.95">32</tspan></text>
<text transform="scale(1.0600,1)" font-size="18.10" fill="#000" stroke="#fff" stroke-width="0.18"><tspan stroke-width="0.01" x="922.82" y="657.60" textLength="12.36" lengthAdjust="spacingAndGlyphs">−</tspan><tspan x="935.82 946.67" y="656.95">36</tspan></text>
</svg></body></html>
